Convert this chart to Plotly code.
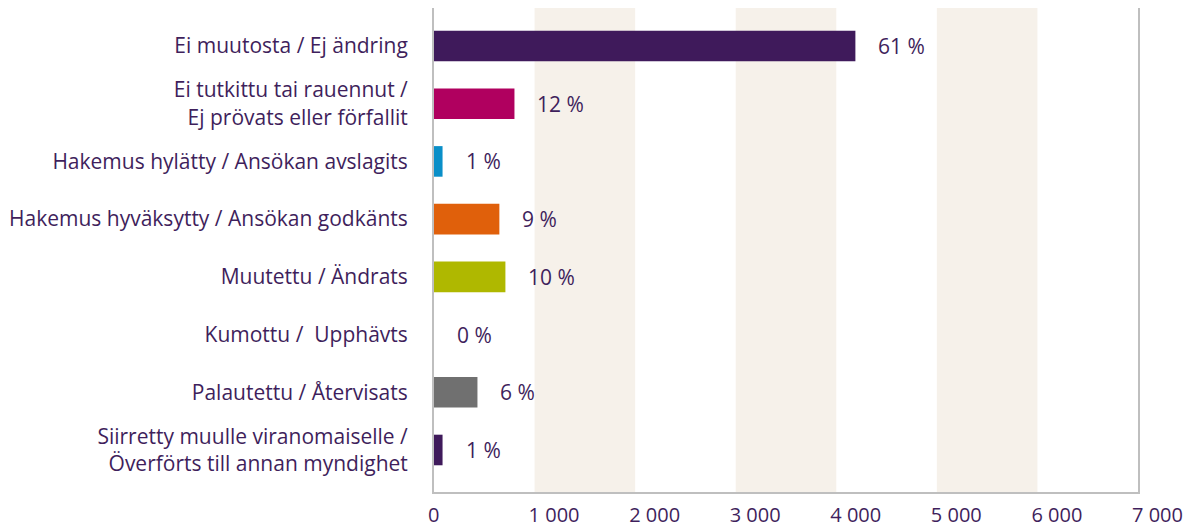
import plotly.graph_objects as go

categories = [
    "Ei muutosta / Ej ändring",
    "Ei tutkittu tai rauennut /<br>Ej prövats eller förfallit",
    "Hakemus hylätty / Ansökan avslagits",
    "Hakemus hyväksytty / Ansökan godkänts",
    "Muutettu / Ändrats",
    "Kumottu /  Upphävts",
    "Palautettu / Återvisats",
    "Siirretty muulle viranomaiselle /<br>Överförts till annan myndighet",
]
values = [4190, 800, 85, 650, 710, 0, 432, 85]
pct_labels = ["61 %", "12 %", "1 %", "9 %", "10 %", "0 %", "6 %", "1 %"]
bar_colors = ["#3f1a5b", "#b0005f", "#0a8fc8", "#e0600b", "#afb800", "#a0a0a0", "#707070", "#3f1a5b"]
x_ticks = [0, 1000, 2000, 3000, 4000, 5000, 6000, 7000]
bands = [(1000, 2000), (3000, 4000), (5000, 6000)]

TEXT = "#3f1f5c"
FONT = "Open Sans"
FS = 21

fig = go.Figure()
fig.add_trace(go.Bar(
    y=categories, x=values, orientation="h",
    marker=dict(color=bar_colors, line=dict(width=0)),
    width=0.53, hoverinfo="skip",
))

for b0, b1 in bands:
    fig.add_shape(type="rect", xref="x", yref="paper", x0=b0, x1=b1, y0=0, y1=1,
                  fillcolor="#f6f1ea", line=dict(width=0), layer="below")

for c, v, t in zip(categories, values, pct_labels):
    fig.add_annotation(x=v, y=c, text=t, showarrow=False, xanchor="left", xshift=21,
                       font=dict(family=FONT, size=FS, color=TEXT))

fig.update_layout(
    width=1184, height=520,
    margin=dict(l=426, r=54, t=0, b=36, autoexpand=False),
    plot_bgcolor="white", paper_bgcolor="white",
    separators=", ",
    showlegend=False,
    font=dict(family=FONT, size=FS, color=TEXT),
    xaxis=dict(
        range=[0, 7000], tickvals=x_ticks, tickformat=",d",
        showgrid=False, zeroline=False, automargin=False,
        showline=True, linecolor="#bfbfbf", linewidth=2,
        ticks="", ticklabelposition="outside right", ticklabelstandoff=4,
        ticklabelshift=-7, ticklabeloverflow="allow",
        tickfont=dict(family=FONT, size=20, color=TEXT),
    ),
    yaxis=dict(
        type="category", categoryorder="array", categoryarray=categories,
        range=[7.728, -0.658], automargin=False,
        showgrid=False, zeroline=False,
        showline=True, mirror=True, linecolor="#bfbfbf", linewidth=2,
        ticks="", ticklabelstandoff=20,
        tickfont=dict(family=FONT, size=FS, color=TEXT),
    ),
)

fig.write_html("out.html")
